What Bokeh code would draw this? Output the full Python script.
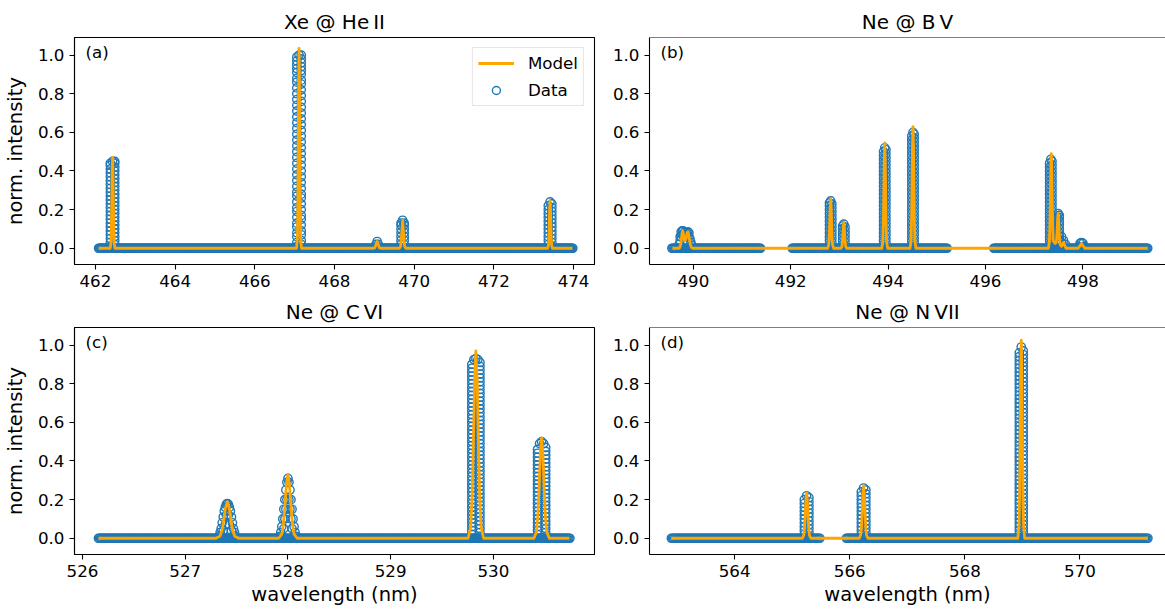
import numpy as np
from bokeh.plotting import figure
from bokeh.models import (Range1d, FixedTicker, PrintfTickFormatter, Label, Span,
                          Legend, LegendItem)
from bokeh.layouts import column, row
from bokeh.embed import file_html
from bokeh.resources import INLINE

FONT = "DejaVu Sans"
BLUE = "#1f77b4"
ORANGE = "#ffa500"

# ---------------- shared axis data ----------------
y_ticks = [0.0, 0.2, 0.4, 0.6, 0.8, 1.0]
a_xticks = [462, 464, 466, 468, 470, 472, 474]
b_xticks = [490, 492, 494, 496, 498]
c_xticks = [526, 527, 528, 529, 530]
d_xticks = [564, 566, 568, 570]

titles = ["Xe @ He\u2009II", "Ne @ B\u2009V", "Ne @ C\u2009VI", "Ne @ N\u2009VII"]
tags = ["(a)", "(b)", "(c)", "(d)"]

# ---------------- panel (a) ----------------
a_base_segments = [(462.08, 473.97)]
a_step = 0.02
a_col_x = [462.375, 462.485, 462.43,
           467.055, 467.165, 467.11,
           469.04, 469.07, 469.10,
           469.67, 469.75, 469.71,
           473.365, 473.455, 473.41]
a_col_y = [
    [0.01, 0.03, 0.05, 0.07, 0.09, 0.11, 0.13, 0.15, 0.17, 0.19, 0.21, 0.23, 0.25, 0.27, 0.29, 0.31,
     0.33, 0.35, 0.37, 0.39, 0.41, 0.43, 0.44],
    [0.02, 0.04, 0.06, 0.08, 0.10, 0.12, 0.14, 0.16, 0.18, 0.20, 0.22, 0.24, 0.26, 0.28, 0.30, 0.32,
     0.34, 0.36, 0.38, 0.40, 0.42, 0.44, 0.45],
    [0.45],
    [0.01, 0.03, 0.06, 0.08, 0.11, 0.13, 0.16, 0.19, 0.21, 0.24, 0.27, 0.29, 0.32, 0.35, 0.38, 0.41,
     0.44, 0.47, 0.50, 0.53, 0.56, 0.59, 0.62, 0.65, 0.68, 0.71, 0.74, 0.77, 0.80, 0.83, 0.86, 0.88,
     0.91, 0.93, 0.95, 0.97, 0.99],
    [0.02, 0.04, 0.07, 0.09, 0.12, 0.15, 0.17, 0.20, 0.23, 0.26, 0.28, 0.31, 0.34, 0.37, 0.40, 0.43,
     0.46, 0.49, 0.52, 0.55, 0.58, 0.61, 0.64, 0.67, 0.70, 0.73, 0.76, 0.79, 0.82, 0.85, 0.87, 0.90,
     0.92, 0.94, 0.96, 0.98, 1.00],
    [1.00],
    [0.02], [0.035], [0.02],
    [0.02, 0.04, 0.06, 0.08, 0.10, 0.12, 0.13],
    [0.02, 0.04, 0.06, 0.08, 0.10, 0.12, 0.13],
    [0.145],
    [0.02, 0.04, 0.06, 0.08, 0.10, 0.12, 0.14, 0.16, 0.18, 0.20, 0.22],
    [0.01, 0.03, 0.05, 0.07, 0.09, 0.11, 0.13, 0.15, 0.17, 0.19, 0.21, 0.23],
    [0.24],
]
a_model_x = [462.08,
             462.37, 462.39, 462.40, 462.41, 462.42, 462.43, 462.44, 462.45, 462.46, 462.47, 462.49,
             467.05, 467.07, 467.08, 467.09, 467.10, 467.11, 467.12, 467.13, 467.14, 467.15, 467.17,
             468.98, 469.01, 469.04, 469.07, 469.10, 469.13, 469.16,
             469.63, 469.66, 469.685, 469.71, 469.735, 469.76, 469.79,
             473.35, 473.37, 473.38, 473.39, 473.40, 473.41, 473.42, 473.43, 473.44, 473.45, 473.47,
             473.97]
a_model_y = [0,
             0, 0.03, 0.10, 0.24, 0.40, 0.47, 0.40, 0.24, 0.10, 0.03, 0,
             0, 0.06, 0.22, 0.52, 0.87, 1.035, 0.87, 0.52, 0.22, 0.06, 0,
             0, 0.002, 0.018, 0.035, 0.018, 0.002, 0,
             0, 0.01, 0.07, 0.145, 0.07, 0.01, 0,
             0, 0.015, 0.05, 0.12, 0.205, 0.245, 0.205, 0.12, 0.05, 0.015, 0,
             0]

# ---------------- panel (b) ----------------
b_base_segments = [(489.56, 491.37), (492.03, 495.20), (496.17, 499.33)]
b_step = 0.02
b_col_x = [489.71, 489.73, 489.75, 489.77, 489.79, 489.81, 489.83, 489.85, 489.87, 489.89,
           489.91, 489.93, 489.95, 489.97,
           492.795, 492.845, 492.82,
           493.065, 493.115, 493.09,
           493.905, 493.955, 493.93,
           494.485, 494.535, 494.51,
           497.315, 497.365, 497.34,
           497.465, 497.515, 497.49, 497.56, 497.60, 497.64,
           497.91, 497.94, 497.97, 498.00, 498.03]
b_col_y = [
    [0.02], [0.04, 0.06], [0.06, 0.085], [0.07, 0.09], [0.09], [0.06, 0.08], [0.075], [0.075],
    [0.06, 0.08], [0.085], [0.06, 0.08], [0.05], [0.03], [0.015],
    [0.02, 0.04, 0.06, 0.08, 0.10, 0.12, 0.14, 0.16, 0.18, 0.20, 0.22, 0.235],
    [0.01, 0.03, 0.05, 0.07, 0.09, 0.11, 0.13, 0.15, 0.17, 0.19, 0.21, 0.23],
    [0.245],
    [0.02, 0.04, 0.06, 0.08, 0.10, 0.115],
    [0.01, 0.03, 0.05, 0.07, 0.09, 0.11],
    [0.125],
    [0.02, 0.04, 0.06, 0.08, 0.10, 0.12, 0.14, 0.16, 0.18, 0.20, 0.22, 0.24, 0.26, 0.28, 0.30, 0.32,
     0.34, 0.36, 0.38, 0.40, 0.42, 0.44, 0.46, 0.48, 0.50],
    [0.01, 0.03, 0.05, 0.07, 0.09, 0.11, 0.13, 0.15, 0.17, 0.19, 0.21, 0.23, 0.25, 0.27, 0.29, 0.31,
     0.33, 0.35, 0.37, 0.39, 0.41, 0.43, 0.45, 0.47, 0.49, 0.51],
    [0.52],
    [0.02, 0.04, 0.06, 0.08, 0.10, 0.12, 0.14, 0.16, 0.18, 0.20, 0.22, 0.24, 0.26, 0.28, 0.30, 0.32,
     0.34, 0.36, 0.38, 0.40, 0.42, 0.44, 0.46, 0.48, 0.50, 0.52, 0.54, 0.56, 0.58],
    [0.01, 0.03, 0.05, 0.07, 0.09, 0.11, 0.13, 0.15, 0.17, 0.19, 0.21, 0.23, 0.25, 0.27, 0.29, 0.31,
     0.33, 0.35, 0.37, 0.39, 0.41, 0.43, 0.45, 0.47, 0.49, 0.51, 0.53, 0.55, 0.57, 0.59],
    [0.60],
    [0.02, 0.04, 0.06, 0.08, 0.10, 0.12, 0.14, 0.16, 0.18, 0.20, 0.22, 0.24, 0.26, 0.28, 0.30, 0.32,
     0.34, 0.36, 0.38, 0.40, 0.42, 0.44],
    [0.01, 0.03, 0.05, 0.07, 0.09, 0.11, 0.13, 0.15, 0.17, 0.19, 0.21, 0.23, 0.25, 0.27, 0.29, 0.31,
     0.33, 0.35, 0.37, 0.39, 0.41, 0.43, 0.45],
    [0.46],
    [0.04, 0.06, 0.08, 0.10, 0.12, 0.14, 0.16],
    [0.02, 0.04, 0.06, 0.08, 0.10, 0.12, 0.14, 0.16, 0.17],
    [0.18],
    [0.03, 0.06], [0.04], [0.02],
    [0.01], [0.025], [0.03], [0.025], [0.01],
]
b_model_x = [489.57, 489.70, 489.72, 489.74, 489.755, 489.77, 489.78, 489.79, 489.805, 489.82,
             489.835, 489.85, 489.865, 489.88, 489.89, 489.905, 489.92, 489.94, 489.96, 489.99,
             492.76, 492.78, 492.79, 492.80, 492.81, 492.82, 492.83, 492.84, 492.85, 492.86, 492.88,
             493.03, 493.05, 493.06, 493.07, 493.08, 493.09, 493.10, 493.11, 493.12, 493.13, 493.15,
             493.87, 493.89, 493.90, 493.91, 493.92, 493.93, 493.94, 493.95, 493.96, 493.97, 493.99,
             494.45, 494.47, 494.48, 494.49, 494.50, 494.51, 494.52, 494.53, 494.54, 494.55, 494.57,
             497.29, 497.31, 497.32, 497.33, 497.34, 497.35, 497.36, 497.37, 497.38, 497.39, 497.41,
             497.43, 497.45, 497.46, 497.47, 497.48, 497.49, 497.50, 497.51, 497.52, 497.53, 497.56,
             497.58, 497.60, 497.62, 497.65,
             497.90, 497.94, 497.97, 498.00, 498.04, 499.33]
b_model_y = [0, 0, 0.003, 0.02, 0.045, 0.08, 0.09, 0.083, 0.058, 0.04,
             0.04, 0.05, 0.07, 0.083, 0.085, 0.07, 0.045, 0.018, 0.004, 0,
             0, 0.016, 0.054, 0.128, 0.214, 0.255, 0.214, 0.128, 0.054, 0.016, 0,
             0, 0.008, 0.027, 0.065, 0.109, 0.13, 0.109, 0.065, 0.027, 0.008, 0,
             0, 0.034, 0.114, 0.273, 0.458, 0.545, 0.458, 0.273, 0.114, 0.034, 0,
             0, 0.039, 0.132, 0.315, 0.529, 0.63, 0.529, 0.315, 0.132, 0.039, 0,
             0, 0.031, 0.103, 0.245, 0.412, 0.49, 0.412, 0.245, 0.103, 0.04, 0.03,
             0.025, 0.03, 0.045, 0.09, 0.151, 0.18, 0.151, 0.09, 0.045, 0.02, 0.01,
             0.02, 0.03, 0.02, 0,
             0, 0.012, 0.025, 0.012, 0, 0]

# ---------------- panel (c) ----------------
c_base_segments = [(526.155, 530.74)]
c_step = 0.01
c_col_x = [527.33, 527.34, 527.35, 527.36, 527.37, 527.38, 527.39, 527.40, 527.41, 527.42, 527.43,
           527.44, 527.45, 527.46, 527.47, 527.48, 527.49,
           527.92, 527.93, 527.94, 527.95, 527.96, 527.97, 527.98, 527.99, 528.00, 528.01, 528.02,
           528.03, 528.04, 528.05, 528.06, 528.07, 528.08,
           529.79, 529.87, 529.81, 529.83, 529.85,
           530.43, 530.51, 530.45, 530.47, 530.49]
c_col_y = [
    [0.01], [0.03], [0.05], [0.08], [0.04, 0.11], [0.14], [0.07, 0.16], [0.12, 0.175], [0.18],
    [0.12, 0.175], [0.07, 0.16], [0.14], [0.04, 0.11], [0.08], [0.05], [0.03], [0.01],
    [0.01], [0.03], [0.06], [0.10], [0.05, 0.15], [0.10, 0.20], [0.15, 0.25], [0.20, 0.29], [0.31],
    [0.20, 0.29], [0.15, 0.25], [0.10, 0.20], [0.05, 0.15], [0.10], [0.06], [0.03], [0.01],
    [0.02, 0.04, 0.06, 0.08, 0.10, 0.12, 0.14, 0.16, 0.18, 0.20, 0.22, 0.24, 0.26, 0.28, 0.30, 0.32,
     0.34, 0.36, 0.38, 0.40, 0.42, 0.44, 0.46, 0.48, 0.50, 0.52, 0.54, 0.56, 0.58, 0.60, 0.62, 0.64,
     0.66, 0.68, 0.70, 0.72, 0.74, 0.76, 0.78, 0.80, 0.82, 0.84, 0.86, 0.88, 0.90],
    [0.01, 0.03, 0.05, 0.07, 0.09, 0.11, 0.13, 0.15, 0.17, 0.19, 0.21, 0.23, 0.25, 0.27, 0.29, 0.31,
     0.33, 0.35, 0.37, 0.39, 0.41, 0.43, 0.45, 0.47, 0.49, 0.51, 0.53, 0.55, 0.57, 0.59, 0.61, 0.63,
     0.65, 0.67, 0.69, 0.71, 0.73, 0.75, 0.77, 0.79, 0.81, 0.83, 0.85, 0.87, 0.89, 0.91],
    [0.925], [0.93], [0.925],
    [0.02, 0.04, 0.06, 0.08, 0.10, 0.12, 0.14, 0.16, 0.18, 0.20, 0.22, 0.24, 0.26, 0.28, 0.30, 0.32,
     0.34, 0.36, 0.38, 0.40, 0.42, 0.44, 0.46],
    [0.01, 0.03, 0.05, 0.07, 0.09, 0.11, 0.13, 0.15, 0.17, 0.19, 0.21, 0.23, 0.25, 0.27, 0.29, 0.31,
     0.33, 0.35, 0.37, 0.39, 0.41, 0.43, 0.45, 0.47],
    [0.49], [0.50], [0.49],
]
c_model_x = [526.155,
             527.30, 527.34, 527.36, 527.375, 527.39, 527.41, 527.43, 527.445, 527.46, 527.48, 527.52,
             527.91, 527.94, 527.955, 527.97, 527.985, 528.00, 528.015, 528.03, 528.045, 528.06, 528.09,
             529.755, 529.78, 529.7925, 529.805, 529.8175, 529.83, 529.8425, 529.855, 529.8675, 529.88, 529.905,
             530.395, 530.42, 530.4325, 530.445, 530.4575, 530.47, 530.4825, 530.495, 530.5075, 530.52, 530.545,
             530.74]
c_model_y = [0,
             0, 0.012, 0.046, 0.095, 0.152, 0.19, 0.152, 0.095, 0.046, 0.012, 0,
             0, 0.021, 0.069, 0.165, 0.277, 0.33, 0.277, 0.165, 0.069, 0.021, 0,
             0, 0.061, 0.204, 0.485, 0.815, 0.97, 0.815, 0.485, 0.204, 0.061, 0,
             0, 0.033, 0.109, 0.26, 0.437, 0.52, 0.437, 0.26, 0.109, 0.033, 0,
             0]

# ---------------- panel (d) ----------------
d_base_segments = [(562.90, 565.47), (565.94, 571.18)]
d_step = 0.02
d_col_x = [565.21, 565.29, 565.25, 566.20, 566.28, 566.24, 568.945, 569.015, 568.98]
d_col_y = [
    [0.02, 0.04, 0.06, 0.08, 0.10, 0.12, 0.14, 0.16, 0.18, 0.20],
    [0.01, 0.03, 0.05, 0.07, 0.09, 0.11, 0.13, 0.15, 0.17, 0.19, 0.21],
    [0.22],
    [0.02, 0.04, 0.06, 0.08, 0.10, 0.12, 0.14, 0.16, 0.18, 0.20, 0.22, 0.24],
    [0.01, 0.03, 0.05, 0.07, 0.09, 0.11, 0.13, 0.15, 0.17, 0.19, 0.21, 0.23, 0.25],
    [0.26],
    [0.02, 0.04, 0.06, 0.08, 0.10, 0.12, 0.14, 0.16, 0.18, 0.20, 0.22, 0.24, 0.26, 0.28, 0.30, 0.32,
     0.34, 0.36, 0.38, 0.40, 0.42, 0.44, 0.46, 0.48, 0.50, 0.52, 0.54, 0.56, 0.58, 0.60, 0.62, 0.64,
     0.66, 0.68, 0.70, 0.72, 0.74, 0.76, 0.78, 0.80, 0.82, 0.84, 0.86, 0.88, 0.90, 0.92, 0.94, 0.96],
    [0.01, 0.03, 0.05, 0.07, 0.09, 0.11, 0.13, 0.15, 0.17, 0.19, 0.21, 0.23, 0.25, 0.27, 0.29, 0.31,
     0.33, 0.35, 0.37, 0.39, 0.41, 0.43, 0.45, 0.47, 0.49, 0.51, 0.53, 0.55, 0.57, 0.59, 0.61, 0.63,
     0.65, 0.67, 0.69, 0.71, 0.73, 0.75, 0.77, 0.79, 0.81, 0.83, 0.85, 0.87, 0.89, 0.91, 0.93, 0.95, 0.97],
    [0.99],
]
d_model_x = [562.90,
             565.175, 565.20, 565.2125, 565.225, 565.2375, 565.25, 565.2625, 565.275, 565.2875, 565.30, 565.325,
             566.165, 566.19, 566.2025, 566.215, 566.2275, 566.24, 566.2525, 566.265, 566.2775, 566.29, 566.315,
             568.92, 568.94, 568.95, 568.96, 568.97, 568.98, 568.99, 569.00, 569.01, 569.02, 569.04,
             571.18]
d_model_y = [0,
             0, 0.015, 0.049, 0.118, 0.197, 0.235, 0.197, 0.118, 0.049, 0.015, 0,
             0, 0.017, 0.057, 0.135, 0.227, 0.27, 0.227, 0.135, 0.057, 0.017, 0,
             0, 0.064, 0.215, 0.513, 0.861, 1.025, 0.861, 0.513, 0.215, 0.064, 0,
             0]

# ---------------- layout constants ----------------
Y_LO, Y_HI = -0.084, 1.091
TICK_FS = "16.7px"
LABEL_FS = "19.5px"
TITLE_FS = "20px"
TITLE_STANDOFF = 6.5


def build_data(segments, step, col_x, col_y):
    xs, ys = [], []
    for s, e in segments:
        n = int(round((e - s) / step)) + 1
        grid = s + step * np.arange(n)
        xs.extend(grid.tolist())
        ys.extend([0.0] * n)
    for cx, levels in zip(col_x, col_y):
        for lv in levels:
            xs.append(cx)
            ys.append(lv)
    return xs, ys


def make_panel(title, tag, xr, xticks, width, height, borders, data, model,
               ylabel=False, xlabel=False, closed=True):
    p = figure(width=width, height=height, x_range=Range1d(*xr), y_range=Range1d(Y_LO, Y_HI),
               output_backend="svg", toolbar_location=None, title=title,
               min_border_left=borders[0], min_border_right=borders[1],
               min_border_top=borders[2], min_border_bottom=borders[3])
    p.title.text_font = FONT
    p.title.text_font_size = TITLE_FS
    p.title.text_font_style = "normal"
    p.title.text_color = "black"
    p.title.align = "center"
    p.title.standoff = TITLE_STANDOFF
    p.xgrid.visible = False
    p.ygrid.visible = False
    p.background_fill_color = "white"
    p.border_fill_color = "white"
    if closed:
        p.outline_line_color = "black"
        p.outline_line_width = 1.1
        p.outline_line_alpha = 1.0
    else:
        p.outline_line_color = None
        p.add_layout(Span(location=Y_HI, dimension="width", line_color="black", line_width=1.1))
    for ax, ticks in ((p.xaxis[0], xticks), (p.yaxis[0], y_ticks)):
        ax.ticker = FixedTicker(ticks=ticks, minor_ticks=[])
        ax.axis_line_color = "black"
        ax.axis_line_width = 1.1
        ax.major_tick_line_color = "black"
        ax.major_tick_line_width = 1.1
        ax.major_tick_out = 5
        ax.major_tick_in = 0
        ax.minor_tick_line_color = None
        ax.major_label_text_font = FONT
        ax.major_label_text_font_size = TICK_FS
        ax.major_label_text_color = "black"
        ax.major_label_standoff = 5
        ax.axis_label_text_font = FONT
        ax.axis_label_text_font_size = LABEL_FS
        ax.axis_label_text_font_style = "normal"
        ax.axis_label_text_color = "black"
    p.yaxis[0].formatter = PrintfTickFormatter(format="%.1f")
    p.xaxis[0].formatter = PrintfTickFormatter(format="%d")
    if ylabel:
        p.yaxis[0].axis_label = "norm. intensity"
        p.yaxis[0].axis_label_standoff = 8
    if xlabel:
        p.xaxis[0].axis_label = "wavelength (nm)"
        p.xaxis[0].axis_label_standoff = 3

    dx, dy = data
    mx, my = model
    r_data = p.scatter(x=dx, y=dy, marker="circle", size=8.3, fill_color=None,
                       line_color=BLUE, line_width=1.4)
    r_model = p.line(x=mx, y=my, line_color=ORANGE, line_width=2.8, line_join="round")

    p.add_layout(Label(x=xr[0], y=Y_HI, x_offset=11, y_offset=-4, text=tag,
                       text_baseline="top", text_font=FONT, text_font_size=TICK_FS,
                       text_color="black"))
    return p, r_data, r_model


for mx_, my_ in ((a_model_x, a_model_y), (b_model_x, b_model_y),
                 (c_model_x, c_model_y), (d_model_x, d_model_y)):
    assert len(mx_) == len(my_)

a_data = build_data(a_base_segments, a_step, a_col_x, a_col_y)
b_data = build_data(b_base_segments, b_step, b_col_x, b_col_y)
c_data = build_data(c_base_segments, c_step, c_col_x, c_col_y)
d_data = build_data(d_base_segments, d_step, d_col_x, d_col_y)

# (b) and (d) frames run past the right edge of the picture (no right spine visible)
pa, ra_data, ra_model = make_panel(titles[0], tags[0], (461.475, 474.525), a_xticks, 605, 294,
                                   (72, 11, 37, 30), a_data, (a_model_x, a_model_y), ylabel=True)
pb, _, _ = make_panel(titles[1], tags[1], (489.10, 499.695), b_xticks, 560, 294,
                      (44, 0, 37, 30), b_data, (b_model_x, b_model_y), closed=False)
pc, _, _ = make_panel(titles[2], tags[2], (525.922, 530.985), c_xticks, 605, 316,
                      (72, 11, 32, 56), c_data, (c_model_x, c_model_y), ylabel=True, xlabel=True)
pd, _, _ = make_panel(titles[3], tags[3], (562.52, 571.486), d_xticks, 560, 316,
                      (44, 0, 32, 56), d_data, (d_model_x, d_model_y), xlabel=True, closed=False)

legend = Legend(items=[LegendItem(label="Model", renderers=[ra_model]),
                       LegendItem(label="Data", renderers=[ra_data])],
                location="top_right")
legend.label_text_font = FONT
legend.label_text_font_size = TICK_FS
legend.label_text_color = "black"
legend.border_line_color = "#cccccc"
legend.border_line_width = 1.1
legend.background_fill_color = "white"
legend.background_fill_alpha = 0.8
legend.glyph_width = 36
legend.glyph_height = 20
legend.label_height = 20
legend.label_standoff = 14
legend.spacing = 7
legend.padding = 5
legend.margin = 10
pa.add_layout(legend)

root = column(row(pa, pb), row(pc, pd))
with open("out.html", "w") as f:
    f.write(file_html(root, INLINE))
